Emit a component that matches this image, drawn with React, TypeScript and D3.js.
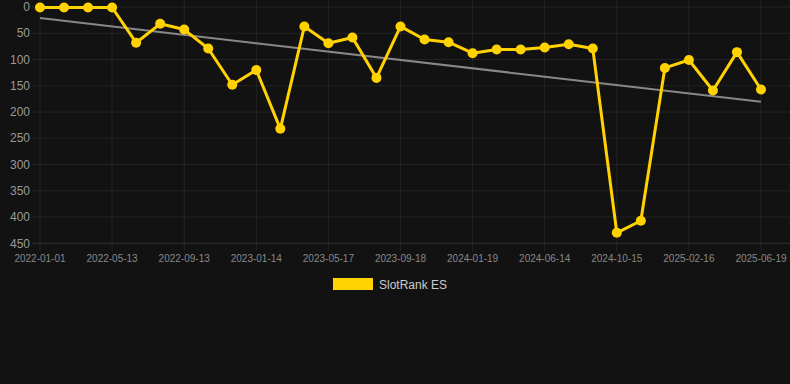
import React from "react";
import * as d3 from "d3";

const dates: string[] = [
  "2022-01-01", "2022-02-14", "2022-03-29", "2022-05-13", "2022-06-23", "2022-08-03",
  "2022-09-13", "2022-10-24", "2022-12-04", "2023-01-14", "2023-02-24", "2023-04-06",
  "2023-05-17", "2023-06-27", "2023-08-07", "2023-09-18", "2023-10-29", "2023-12-09",
  "2024-01-19", "2024-03-08", "2024-04-26", "2024-06-14", "2024-07-25", "2024-09-04",
  "2024-10-15", "2024-11-25", "2025-01-05", "2025-02-16", "2025-03-29", "2025-05-09",
  "2025-06-19",
];

const ranks: number[] = [
  1, 1, 1, 1, 68, 32, 43, 79, 148, 120, 232, 37, 69, 58, 135, 37, 62, 67,
  88, 81, 81, 77, 71, 79, 430, 407, 116, 101, 159, 86, 157,
];

const yTicks: number[] = [0, 50, 100, 150, 200, 250, 300, 350, 400, 450];
const seriesName = "SlotRank ES";

const W = 790;
const H = 384;

export default function App() {
  const x = d3.scalePoint<string>().domain(dates).range([40, 761]);
  const y = d3.scaleLinear().domain([0, 450]).range([7, 243.3]);

  const labelDates = dates.filter((_, i) => i % 3 === 0);

  // linear regression trend
  const n = ranks.length;
  const mx = d3.mean(ranks.map((_, i) => i)) as number;
  const my = d3.mean(ranks) as number;
  let sxy = 0;
  let sxx = 0;
  ranks.forEach((v, i) => {
    sxy += (i - mx) * (v - my);
    sxx += (i - mx) * (i - mx);
  });
  const slope = sxy / sxx;
  const intercept = my - slope * mx;
  const trend = [0, n - 1].map((i) => ({ d: dates[i], v: intercept + slope * i }));

  const line = d3
    .line<number>()
    .x((_, i) => x(dates[i]) as number)
    .y((v) => y(v));
  const trendLine = d3
    .line<{ d: string; v: number }>()
    .x((p) => x(p.d) as number)
    .y((p) => y(p.v));

  const font = "Arial, 'Liberation Sans', Helvetica, sans-serif";
  const gridColor = "rgba(255,255,255,0.07)";

  return (
    <svg
      width={W}
      height={H}
      style={{ position: "absolute", left: 0, top: 0, display: "block" }}
      fontFamily={font}
    >
      <rect x={0} y={0} width={W} height={H} fill="#121212" />
      {/* horizontal grid */}
      {yTicks.map((t) => (
        <line
          key={"h" + t}
          x1={32}
          x2={W}
          y1={y(t)}
          y2={y(t)}
          stroke={t === 450 ? "rgba(255,255,255,0.13)" : gridColor}
          strokeWidth={1}
        />
      ))}
      {/* vertical grid */}
      {labelDates.map((d) => (
        <line
          key={"v" + d}
          x1={x(d)}
          x2={x(d)}
          y1={0}
          y2={251}
          stroke={gridColor}
          strokeWidth={1}
        />
      ))}
      {/* y labels */}
      {yTicks.map((t) => (
        <text
          key={"yl" + t}
          x={30}
          y={y(t)}
          dy="0.35em"
          textAnchor="end"
          fontSize={12}
          fill="#999"
        >
          {t}
        </text>
      ))}
      {/* x labels */}
      {labelDates.map((d) => (
        <text
          key={"xl" + d}
          x={x(d)}
          y={262}
          textAnchor="middle"
          fontSize={10}
          fill="#888"
        >
          {d}
        </text>
      ))}
      {/* trend */}
      <path d={trendLine(trend) || ""} fill="none" stroke="#888" strokeWidth={2} />
      {/* series */}
      <path
        d={line(ranks) || ""}
        fill="none"
        stroke="#FFD200"
        strokeWidth={3}
        strokeLinejoin="round"
      />
      {ranks.map((v, i) => (
        <circle key={"c" + i} cx={x(dates[i])} cy={y(v)} r={5} fill="#FFD200" />
      ))}
      {/* legend */}
      <rect x={333} y={278} width={40} height={12} fill="#FFD200" />
      <text x={379} y={288.5} fontSize={12} fill="#ccc">
        {seriesName}
      </text>
    </svg>
  );
}
